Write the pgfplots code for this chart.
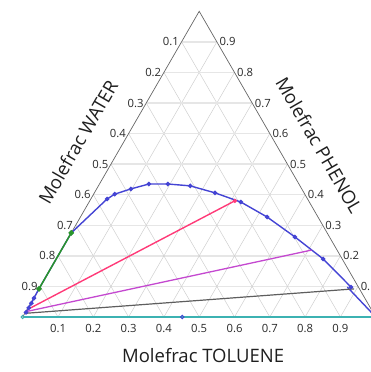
\documentclass[border=0pt]{standalone}
\usepackage{fontspec}
\setmainfont{Open Sans}
\usepackage{pgfplots}
\usepackage{pgfplotstable}
\pgfplotsset{compat=1.18}

\definecolor{cblue}{HTML}{4444D4}
\definecolor{cgreen}{HTML}{2A962A}
\definecolor{cpink}{HTML}{FF3A78}
\definecolor{cmag}{HTML}{C448D0}
\definecolor{cgray}{HTML}{5E5E5E}
\definecolor{cteal}{HTML}{3CB2B2}
\definecolor{ctick}{HTML}{2A2A2A}
\definecolor{cgridh}{HTML}{E6E6E6}
\definecolor{cgridd}{HTML}{CFCFCF}
\definecolor{cedge}{HTML}{666666}

% ternary data: t = molefrac toluene, p = molefrac phenol
\pgfplotstableread{
t     p
0.002 0.015
0.002 0.030
0.002 0.045
0.001 0.062
0.000 0.092
0.000 0.275
0.046 0.386
0.060 0.402
0.097 0.419
0.140 0.435
0.194 0.435
0.260 0.429
0.342 0.406
0.430 0.376
0.529 0.327
0.640 0.262
0.756 0.190
0.881 0.098
}\binodal

\pgfplotstableread{
t     p
0.000 0.092
0.000 0.275
}\greenline

\pgfplotstableread{
t     p
0.002 0.025
0.411 0.380
}\tiepink

\pgfplotstableread{
t     p
0.002 0.018
0.709 0.219
}\tiemag

\pgfplotstableread{
t     p
0.001 0.012
0.893 0.092
}\tiegray

\pgfplotstableread{
t     p
0.000 0.000
0.452 0.000
1.000 0.000
}\tieteal

\pgfplotsset{tern/.style={/pgfplots/table/x expr=\thisrow{t}+0.5*\thisrow{p}, /pgfplots/table/y expr=0.8660254*\thisrow{p}}}

\begin{document}
\begin{tikzpicture}
\begin{axis}[
  at={(22.7pt,55pt)}, anchor=south west,
  scale only axis, width=353pt, height=305.7pt,
  xmin=0, xmax=1, ymin=0, ymax=0.8660254,
  axis lines=none, clip=false,
]
% grid
\pgfplotsinvokeforeach{1,...,9}{
  \draw[cgridh, line width=1.3pt] (axis cs:{0.05*#1},{0.08660254*#1}) -- (axis cs:{1-0.05*#1},{0.08660254*#1});
  \draw[cgridd, line width=0.5pt] (axis cs:{0.1*#1},0) -- (axis cs:{0.1*#1+0.5*(1-0.1*#1)},{0.8660254*(1-0.1*#1)});
  \draw[cgridd, line width=0.5pt] (axis cs:{1-0.1*#1},0) -- (axis cs:{0.5*(1-0.1*#1)},{0.8660254*(1-0.1*#1)});
}
\draw[cedge, line width=0.7pt] (axis cs:0,0) -- (axis cs:1,0) -- (axis cs:0.5,0.8660254) -- cycle;
% tick labels
\pgfplotsinvokeforeach{1,...,9}{
  \node[anchor=east, inner sep=1pt, xshift=-1.5pt, font=\fontsize{11.3}{13}\selectfont, text=ctick]
    at (axis cs:{0.05*#1},{0.08660254*#1}) {0.\the\numexpr10-#1\relax};
  \node[anchor=west, inner sep=1pt, xshift=1.5pt, font=\fontsize{11.3}{13}\selectfont, text=ctick]
    at (axis cs:{1-0.05*#1},{0.08660254*#1}) {0.#1};
  \node[anchor=north, inner sep=1pt, yshift=-6pt, font=\fontsize{11.3}{13}\selectfont, text=ctick]
    at (axis cs:0.#1,0) {0.#1};
}
% data
\addplot[cblue, line width=1.4pt, mark=*, mark size=1.5pt] table[tern] {\binodal};
\addplot[cblue, line width=1.4pt, no marks] coordinates {(0.9195,0.0849) (1.0,0.0)};
\addplot[cgreen, line width=1.5pt, mark=*, mark size=1.9pt] table[tern] {\greenline};
\addplot[cpink, line width=1.4pt, mark=*, mark size=1.4pt, mark indices={2}] table[tern] {\tiepink};
\addplot[cmag, line width=1.3pt, no marks] table[tern] {\tiemag};
\addplot[cgray, line width=1.2pt, no marks] table[tern] {\tiegray};
\addplot[cteal, line width=2.6pt, no marks] table[tern] {\tieteal};
\addplot[only marks, mark=o, mark size=1.7pt, cteal, line width=0.8pt, mark options={fill=white}, mark indices={1}] table[tern] {\tieteal};
\addplot[only marks, mark=o, mark size=1.7pt, cblue, line width=0.8pt, mark options={fill=white}, mark indices={2}] table[tern] {\tieteal};
% titles
\node[rotate=60, font=\fontsize{18.5}{21}\selectfont, text=black!88] at (axis cs:0.157,0.496) {Molefrac WATER};
\node[rotate=-60, font=\fontsize{18.5}{21}\selectfont, text=black!88] at (axis cs:0.840,0.487) {Molefrac PHENOL};
\node[font=\fontsize{18.5}{21}\selectfont, text=black!88] at (axis cs:0.511,-0.108) {Molefrac TOLUENE};
\end{axis}
\pgfresetboundingbox
\path[use as bounding box] (0,0) rectangle (370pt,372pt);
\end{tikzpicture}
\end{document}
